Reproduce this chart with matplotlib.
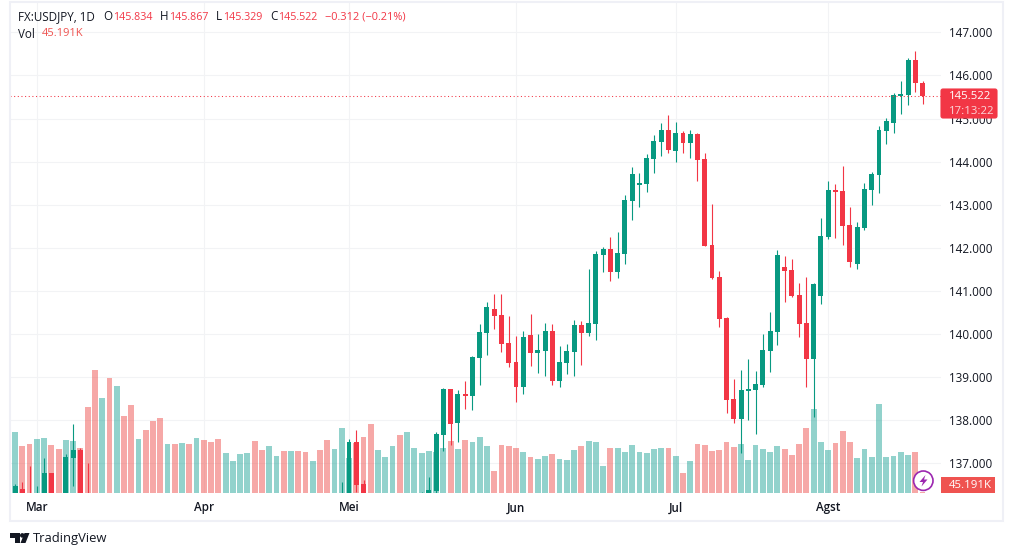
import matplotlib
matplotlib.use('Agg')
import matplotlib.pyplot as plt
from matplotlib.patches import Rectangle, Circle, Polygon, FancyBboxPatch
from matplotlib.transforms import Affine2D

W = 1013
H = 556
UP = '#089981'
DOWN = '#f23645'
VOL_UP = '#26a69a'
VOL_DOWN = '#ef5350'
GRID = '#f2f3f5'
TEXT = '#131722'

na = float('nan')

# prices, candles below the pane bottom are not readable so they stay empty
opens = [na, 136.10, 136.40, 136.20, 135.70, 135.90, 136.77, na, 136.00, 137.12, 137.30, 136.20] + [na] * 34 + [
    135.90, 136.10, 137.49, 136.52] + [na] * 7 + [
    135.90, 136.10, 136.35, 137.65, 138.72, 137.93, 138.60, 138.56, 139.44, 140.02,
    140.58, 140.44, 139.79, 139.35, 138.77, 139.97, 139.56, 139.60, 140.07, 138.91,
    139.32, 139.58, 140.21, 140.02, 140.23, 141.83, 141.97, 141.44, 141.86, 143.09,
    143.46, 143.48, 144.06, 144.46, 144.73, 144.25, 144.66, 144.43, 144.64, 144.06,
    142.06, 141.32, 140.37, 138.49, 138.02, 138.67, 138.70, 138.81, 139.60, 140.04,
    141.55, 141.48, 140.90, 140.25, 139.42, 140.88, 142.25, 143.34, 143.32, 142.53,
    141.62, 142.46, 143.34, 143.69, 144.71, 144.90, 145.52, 145.55, 146.36, 145.834]
highs = [na, 136.51, 136.56, 136.93, 136.47, 137.12, 136.77, na, 137.21, 137.91, 137.35, 137.00] + [na] * 34 + [
    136.56, 137.56, 137.77, 136.61] + [na] * 7 + [
    136.33, 136.68, 137.72, 138.74, 138.72, 138.70, 138.91, 139.49, 140.23, 140.74,
    140.93, 140.93, 140.42, 139.95, 140.07, 140.46, 140.00, 140.25, 140.23, 139.72,
    139.77, 140.32, 140.30, 141.51, 141.92, 142.02, 142.25, 142.37, 143.22, 143.87,
    143.74, 144.18, 144.62, 144.90, 145.08, 144.92, 144.71, 144.73, 144.66, 144.20,
    143.02, 141.46, 140.39, 138.95, 139.16, 139.42, 139.14, 140.00, 140.51, 141.95,
    141.81, 141.74, 141.18, 141.32, 141.18, 142.69, 143.55, 143.48, 143.90, 142.95,
    142.60, 143.50, 143.76, 144.83, 145.01, 145.59, 145.87, 146.41, 146.57, 145.867]
lows = [na, 135.90, 135.90, 135.80, 135.60, 135.80, 135.90, na, 135.90, 136.47, 136.00, 135.80] + [na] * 34 + [
    135.70, 136.00, 136.33, 136.00] + [na] * 7 + [
    135.80, 136.00, 136.31, 137.28, 137.42, 137.49, 138.26, 138.23, 138.81, 139.51,
    140.11, 139.58, 139.23, 138.42, 138.60, 139.25, 139.09, 139.02, 138.81, 138.77,
    139.07, 139.02, 139.28, 139.95, 139.86, 141.44, 141.23, 141.30, 141.62, 142.64,
    142.95, 143.29, 143.74, 144.13, 144.20, 143.99, 144.20, 144.08, 143.55, 142.04,
    141.28, 140.16, 138.16, 137.93, 137.23, 138.00, 137.68, 138.77, 139.12, 139.74,
    140.74, 140.86, 139.93, 138.77, 138.07, 140.69, 142.20, 142.23, 142.06, 141.55,
    141.51, 142.41, 142.99, 143.27, 144.41, 144.66, 145.11, 145.31, 145.62, 145.329]
closes = [na, 136.47, 136.10, 135.90, 135.90, 136.77, 136.00, na, 137.14, 137.30, 136.20, 135.90] + [na] * 34 + [
    136.10, 137.49, 136.49, 136.10] + [na] * 7 + [
    136.00, 136.38, 137.68, 138.72, 137.91, 138.60, 138.56, 139.46, 140.04, 140.63,
    140.42, 139.77, 139.32, 138.77, 139.93, 139.56, 139.63, 140.07, 138.91, 139.35,
    139.60, 140.21, 140.02, 140.25, 141.86, 141.97, 141.44, 141.88, 143.11, 143.71,
    143.50, 144.08, 144.48, 144.73, 144.27, 144.66, 144.43, 144.64, 144.04, 142.04,
    141.30, 140.35, 138.47, 138.02, 138.70, 138.72, 138.84, 139.63, 140.07, 141.83,
    141.46, 140.88, 140.23, 139.42, 141.16, 142.27, 143.34, 143.29, 142.50, 141.67,
    142.48, 143.36, 143.71, 144.73, 144.94, 145.55, 145.57, 146.36, 145.82, 145.522]

# volume in thousands, u / d is the colour of each bar
volumes = [1810, 2440, 1880, 1960, 2160, 2200, 1920, 1760, 2120, 2080,
           1800, 3440, 4920, 3800, 4600, 4280, 3080, 3520, 2160, 2520,
           2880, 3000, 1960, 1960, 2000, 1960, 2200, 2120, 2040, 2160,
           1600, 1280, 1560, 1600, 2080, 1720, 1880, 1480, 1680, 1680,
           1680, 1640, 1280, 1720, 2120, 1760, 2600, 1400, 2000, 2240,
           2760, 1720, 1440, 1880, 2320, 2440, 1800, 1600, 1680, 1640,
           1800, 2080, 1760, 2120, 2040, 2240, 1880, 880, 1920, 1880,
           1800, 1640, 1440, 1360, 1480, 1560, 1360, 1320, 1720, 1880,
           2080, 2040, 1080, 1800, 1800, 1640, 1920, 1640, 1600, 1760,
           1800, 1800, 1480, 800, 1280, 1960, 1920, 1680, 1720, 2040,
           1840, 1960, 1320, 1920, 1760, 1640, 1880, 1760, 1520, 1960,
           2600, 3360, 2040, 1720, 2000, 2480, 2040, 1400, 1760, 1440,
           3560, 1440, 1480, 1640, 1520, 1640, 45.191]
vol_dirs = ('dudduudduu' 'dddududdud' 'ddudududdd' 'uuuuddu' 'udu' 'ddudduuudd' 'duuuduuuuu'
            'ududuuuddd' 'duduuduuud' 'uuuduuuuuu' 'udududdddd' 'duuuuuuddd' 'duuuddduuu' 'uuuuudd')

price_ticks = [137, 138, 139, 140, 141, 142, 143, 144, 145, 146, 147]
month_pos = [4, 27, 47, 70, 92, 113]
month_names = ['Mar', 'Apr', 'Mei', 'Jun', 'Jul', 'Agst']

fig = plt.figure(figsize=(W / 100, H / 100), dpi=100, facecolor='white')
plt.rcParams['font.family'] = ['Open Sans', 'DejaVu Sans']

# pixel coords for everything outside the axes
px = Affine2D().scale(1, -1).translate(0, H)

pos = [10 / W, (H - 493) / H, 931 / W, 490 / H]
ax = fig.add_axes(pos)
ax.set_xlim(0.303, 128.54)
ax.set_ylim(136.306, 147.683)
for s in ax.spines.values():
    s.set_visible(False)
ax.yaxis.tick_right()
ax.set_yticks(price_ticks)
ax.set_yticklabels(['%.3f' % p for p in price_ticks])
ax.set_xticks(month_pos)
ax.set_xticklabels(month_names, fontweight='semibold')
ax.tick_params(axis='y', length=0, pad=5.5, labelsize=8.4, labelcolor=TEXT)
ax.tick_params(axis='x', length=0, pad=6, labelsize=8.4, labelcolor=TEXT)
ax.grid(True, color=GRID, linewidth=0.75)
ax.set_axisbelow(True)

xs = list(range(len(closes)))

vol_ax = fig.add_axes(pos, sharex=ax, facecolor='none')
vol_ax.axis('off')
vol_ax.set_ylim(0, 490 * 40)
vol_colors = [VOL_UP if d == 'u' else VOL_DOWN for d in vol_dirs]
vol_ax.bar(xs, volumes, width=0.8, color=vol_colors, alpha=0.5, linewidth=0)

candle_ax = fig.add_axes(pos, sharex=ax, sharey=ax, facecolor='none')
candle_ax.axis('off')
colors = [UP if c >= o else DOWN for o, c in zip(opens, closes)]
candle_ax.vlines(xs, lows, highs, colors=colors, linewidth=0.8)
candle_ax.bar(xs, [c - o for o, c in zip(opens, closes)], bottom=opens, width=0.68, color=colors, linewidth=0)
candle_ax.axhline(closes[-1], color=DOWN, linewidth=0.75, linestyle=(0, (1, 2.5)))

# outer frame
fig.add_artist(Rectangle((10, 2), 993, 518.5, transform=px, fill=False, edgecolor='#eff0f6', linewidth=1.5))

# legend rows
legend = [(18, 'FX:USDJPY, 1D', TEXT, 8.4), (103, 'O', TEXT, 8.4), (113, '145.834', DOWN, 7.7), (160, 'H', TEXT, 8.4),
          (169, '145.867', DOWN, 7.7), (216, 'L', TEXT, 8.4), (223, '145.329', DOWN, 7.7), (270, 'C', TEXT, 8.4),
          (278, '145.522', DOWN, 7.7), (325, '\u22120.312 (\u22120.21%)', DOWN, 7.9)]
for x, s, c, size in legend:
    fig.text(x, 17, s, transform=px, color=c, fontsize=size, va='center', ha='left')
fig.text(18, 34, 'Vol', transform=px, color=TEXT, fontsize=8.4, va='center', ha='left')
fig.text(42, 34, '45.191K', transform=px, color=VOL_DOWN, fontsize=8, va='center', ha='left')

# last price tag
fig.add_artist(FancyBboxPatch((941, 89), 56, 29, boxstyle='round,pad=0,rounding_size=2', transform=px,
                              facecolor=DOWN, edgecolor=DOWN, linewidth=0.8))
fig.text(949, 96.5, '145.522', transform=px, color='white', fontsize=8.2, va='center', ha='left')
fig.text(949, 111, '17:13:22', transform=px, color='#fbd5d8', fontsize=8.2, va='center', ha='left')

# volume tag
fig.add_artist(Rectangle((941, 477), 54, 16, transform=px, facecolor=VOL_DOWN, edgecolor='none'))
fig.text(949, 485, '45.191K', transform=px, color='white', fontsize=8.2, va='center', ha='left')

# lightning badge
fig.add_artist(Circle((923.3, 480.7), 9.7, transform=px, facecolor='white', edgecolor='#9c27b0', linewidth=1.2))
fig.add_artist(Polygon([(925.5, 475), (919.5, 482), (923, 482), (921.5, 486.5), (927.5, 479.5), (924, 479.5)],
                       transform=px, facecolor='#9c27b0', edgecolor='none'))

# footer logo
fig.add_artist(Polygon([(10, 533), (20, 533), (20, 543), (15, 543), (15, 538), (10, 538)],
                       transform=px, facecolor=TEXT, edgecolor='none'))
fig.add_artist(Circle((22.3, 535.4), 2.3, transform=px, facecolor=TEXT, edgecolor='none'))
fig.add_artist(Polygon([(24.5, 533), (29.5, 533), (25.5, 543), (20.5, 543)],
                       transform=px, facecolor=TEXT, edgecolor='none'))
fig.text(33, 538.5, 'TradingView', transform=px, color=TEXT, fontsize=9.4, va='center', ha='left')

fig.savefig('out.png', dpi=100)
